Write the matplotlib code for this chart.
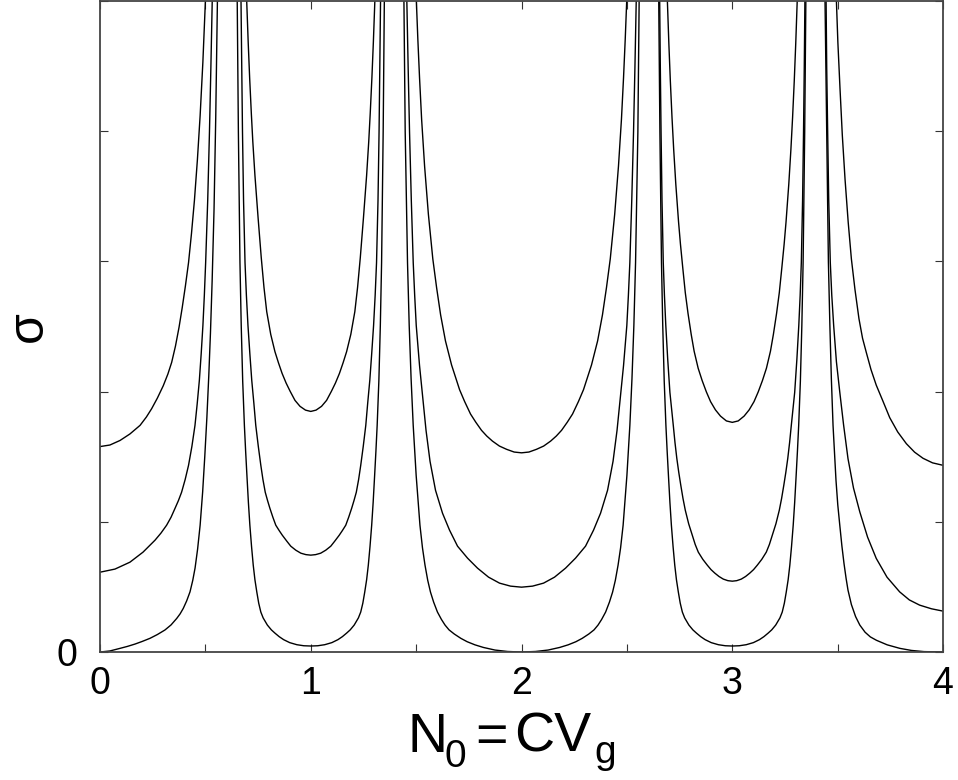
import matplotlib
matplotlib.use('Agg')
import matplotlib.pyplot as plt

plt.rcParams['font.family'] = ['Liberation Sans', 'DejaVu Sans']

# values; one list per branch, the curves leave the frame between branches
# top curve
a_x0 = [0.000, 0.047, 0.095, 0.142, 0.190, 0.220, 0.245, 0.272, 0.300, 0.322, 0.340, 0.358, 0.375, 0.390, 0.405, 0.420, 0.434, 0.448, 0.462, 0.475, 0.488, 0.500, 0.510]
a_y0 = [1.578, 1.590, 1.625, 1.675, 1.741, 1.805, 1.869, 1.950, 2.045, 2.135, 2.225, 2.350, 2.495, 2.645, 2.810, 2.991, 3.215, 3.470, 3.780, 4.120, 4.530, 5.000, 5.450]
a_x1 = [0.690, 0.696, 0.703, 0.710, 0.718, 0.725, 0.735, 0.750, 0.765, 0.778, 0.791, 0.810, 0.830, 0.847, 0.864, 0.883, 0.902, 0.925, 0.949, 0.975, 1.000,
        1.025, 1.051, 1.075, 1.098, 1.117, 1.136, 1.153, 1.170, 1.190, 1.209, 1.222, 1.235, 1.250, 1.265, 1.275, 1.282, 1.290, 1.297, 1.304, 1.310]
a_y1 = [5.31, 5.0, 4.686, 4.41, 4.135, 3.92, 3.662, 3.336, 3.03, 2.80, 2.614, 2.44, 2.307, 2.22, 2.14, 2.066, 2.003, 1.933, 1.887, 1.858, 1.848,
        1.858, 1.887, 1.933, 2.003, 2.066, 2.14, 2.22, 2.307, 2.44, 2.614, 2.80, 3.03, 3.336, 3.662, 3.92, 4.135, 4.41, 4.686, 5.0, 5.31]
a_x2 = [1.495, 1.501, 1.508, 1.516, 1.526, 1.540, 1.558, 1.579, 1.597, 1.616, 1.639, 1.668, 1.706, 1.730, 1.758, 1.783, 1.810, 1.835, 1.862, 1.895, 1.929, 1.965, 2.000,
        2.035, 2.071, 2.105, 2.138, 2.165, 2.190, 2.217, 2.242, 2.270, 2.294, 2.332, 2.361, 2.384, 2.403, 2.421, 2.442, 2.460, 2.474, 2.484, 2.492, 2.499, 2.505]
a_y2 = [5.295, 5.0, 4.707, 4.413, 4.09, 3.733, 3.363, 3.02, 2.799, 2.59, 2.39, 2.205, 2.015, 1.924, 1.828, 1.765, 1.703, 1.659, 1.620, 1.582, 1.557, 1.536, 1.530,
        1.536, 1.557, 1.582, 1.620, 1.659, 1.703, 1.765, 1.828, 1.924, 2.015, 2.205, 2.39, 2.59, 2.799, 3.02, 3.363, 3.733, 4.09, 4.413, 4.707, 5.0, 5.295]
a_x3 = [2.686, 2.692, 2.699, 2.706, 2.714, 2.722, 2.732, 2.745, 2.754, 2.765, 2.777, 2.790, 2.805, 2.819, 2.838, 2.857, 2.877, 2.897, 2.920, 2.944, 2.972, 3.000,
        3.028, 3.056, 3.080, 3.103, 3.123, 3.143, 3.162, 3.181, 3.195, 3.210, 3.223, 3.235, 3.246, 3.255, 3.268, 3.278, 3.286, 3.294, 3.301, 3.308, 3.314]
a_y3 = [5.32, 5.0, 4.673, 4.387, 4.104, 3.858, 3.593, 3.304, 3.133, 2.951, 2.76, 2.60, 2.44, 2.31, 2.18, 2.085, 1.998, 1.923, 1.86, 1.812, 1.775, 1.764,
        1.775, 1.812, 1.86, 1.923, 1.998, 2.085, 2.18, 2.31, 2.44, 2.60, 2.76, 2.951, 3.133, 3.304, 3.593, 3.858, 4.104, 4.387, 4.673, 5.0, 5.32]
a_x4 = [3.488, 3.494, 3.501, 3.511, 3.522, 3.535, 3.550, 3.565, 3.582, 3.601, 3.618, 3.636, 3.658, 3.683, 3.714, 3.747, 3.785, 3.826, 3.865, 3.905, 3.950, 4.000]
a_y4 = [5.33, 5.0, 4.68, 4.33, 3.97, 3.63, 3.30, 3.02, 2.785, 2.56, 2.41, 2.30, 2.17, 2.05, 1.93, 1.80, 1.69, 1.60, 1.535, 1.488, 1.453, 1.434]

# middle curve
b_x0 = [0.000, 0.071, 0.142, 0.204, 0.261, 0.289, 0.316, 0.337, 0.356, 0.372, 0.387, 0.404, 0.420, 0.436, 0.4506, 0.461, 0.4713, 0.480, 0.4882, 0.495, 0.5012, 0.511, 0.5193, 0.526, 0.5324, 0.538]
b_y0 = [0.613, 0.637, 0.690, 0.767, 0.859, 0.913, 0.974, 1.035, 1.104, 1.163, 1.227, 1.325, 1.434, 1.58, 1.741, 1.905, 2.086, 2.29, 2.508, 2.74, 2.991, 3.47, 3.995, 4.49, 5.0, 5.45]
b_x1 = [0.669, 0.6725, 0.676, 0.681, 0.688, 0.6945, 0.702, 0.711, 0.720, 0.730, 0.739, 0.751, 0.763, 0.773, 0.784, 0.795, 0.806, 0.820, 0.834, 0.850, 0.865, 0.886, 0.905, 0.929, 0.953, 0.977, 1.000,
        1.023, 1.047, 1.071, 1.095, 1.114, 1.135, 1.150, 1.166, 1.180, 1.194, 1.205, 1.216, 1.227, 1.237, 1.249, 1.261, 1.270, 1.280, 1.289, 1.298, 1.3055, 1.312, 1.319, 1.324, 1.3275, 1.331]
b_y1 = [5.0, 4.49, 3.995, 3.47, 2.991, 2.74, 2.508, 2.29, 2.086, 1.91, 1.741, 1.58, 1.434, 1.325, 1.227, 1.163, 1.104, 1.036, 0.974, 0.933, 0.897, 0.852, 0.813, 0.782, 0.759, 0.748, 0.744,
        0.748, 0.759, 0.782, 0.813, 0.852, 0.897, 0.933, 0.974, 1.036, 1.104, 1.163, 1.227, 1.325, 1.434, 1.58, 1.741, 1.91, 2.086, 2.29, 2.508, 2.74, 2.991, 3.47, 3.995, 4.49, 5.0]
b_x2 = [1.4558, 1.462, 1.4686, 1.477, 1.4861, 1.493, 1.5004, 1.516, 1.5326, 1.5469, 1.5658, 1.5919, 1.6251, 1.6584, 1.6963, 1.7438, 1.7912, 1.8434, 1.8956, 1.9478, 2.0,
        2.0522, 2.1044, 2.1566, 2.2088, 2.2562, 2.3037, 2.3416, 2.3749, 2.4081, 2.4342, 2.4531, 2.4674, 2.4840, 2.4996, 2.5070, 2.5139, 2.5230, 2.5314, 2.5380, 2.5442]
b_y2 = [5.0, 4.49, 3.995, 3.47, 2.991, 2.74, 2.508, 2.201, 1.933, 1.702, 1.465, 1.242, 1.066, 0.936, 0.813, 0.721, 0.644, 0.575, 0.529, 0.506, 0.498,
        0.506, 0.529, 0.575, 0.644, 0.721, 0.813, 0.936, 1.066, 1.242, 1.465, 1.702, 1.933, 2.201, 2.508, 2.74, 2.991, 3.47, 3.995, 4.49, 5.0]
b_x3 = [2.6555, 2.6585, 2.6620, 2.6665, 2.6725, 2.6780, 2.6845, 2.6935, 2.7040, 2.7200, 2.7280, 2.7367, 2.7460, 2.7556, 2.7660, 2.7770, 2.7930, 2.8102, 2.8240, 2.8387, 2.8600, 2.8814, 2.8990, 2.9170, 2.9370, 2.9573, 2.9790, 3.0,
        3.0210, 3.0427, 3.0630, 3.0830, 3.1010, 3.1186, 3.1400, 3.1613, 3.1760, 3.1898, 3.2070, 3.2230, 3.2340, 3.2444, 3.2540, 3.2633, 3.2720, 3.2800, 3.2960, 3.3065, 3.3155, 3.3220, 3.3275, 3.3335, 3.3380, 3.3415, 3.3445]
b_y3 = [5.0, 4.49, 3.995, 3.47, 2.991, 2.74, 2.508, 2.25, 1.994, 1.741, 1.61, 1.488, 1.38, 1.281, 1.180, 1.089, 0.985, 0.897, 0.826, 0.767, 0.712, 0.667, 0.633, 0.606, 0.580, 0.560, 0.548, 0.544,
        0.548, 0.560, 0.580, 0.606, 0.633, 0.667, 0.712, 0.767, 0.826, 0.897, 0.985, 1.089, 1.180, 1.281, 1.38, 1.488, 1.61, 1.741, 1.994, 2.25, 2.508, 2.74, 2.991, 3.47, 3.995, 4.49, 5.0]
b_x4 = [3.445, 3.448, 3.4525, 3.4575, 3.465, 3.472, 3.481, 3.494, 3.510, 3.528, 3.549, 3.575, 3.605, 3.642, 3.683, 3.734, 3.794, 3.840, 3.889, 3.945, 4.000]
b_y4 = [5.0, 4.49, 3.995, 3.47, 2.991, 2.74, 2.508, 2.23, 1.996, 1.745, 1.485, 1.26, 1.076, 0.882, 0.719, 0.575, 0.462, 0.400, 0.360, 0.332, 0.314]

# bottom curve
c_x0 = [0.000, 0.047, 0.095, 0.130, 0.166, 0.200, 0.237, 0.272, 0.308, 0.337, 0.364, 0.380, 0.395, 0.411, 0.427, 0.440, 0.451, 0.463, 0.475, 0.487, 0.497, 0.507, 0.516, 0.524, 0.532, 0.541, 0.549, 0.557]
c_y0 = [0.000, 0.008, 0.028, 0.043, 0.061, 0.081, 0.105, 0.134, 0.169, 0.208, 0.258, 0.293, 0.335, 0.392, 0.462, 0.550, 0.645, 0.790, 0.974, 1.230, 1.50, 1.80, 2.12, 2.45, 2.85, 3.40, 4.10, 5.0]
c_x1 = [0.651, 0.6565, 0.664, 0.670, 0.677, 0.685, 0.691, 0.697, 0.704, 0.711, 0.719, 0.727, 0.735, 0.744, 0.753, 0.763, 0.774, 0.794, 0.813, 0.830, 0.850, 0.871, 0.900, 0.934, 0.967, 1.000,
        1.033, 1.066, 1.100, 1.129, 1.150, 1.170, 1.187, 1.206, 1.226, 1.237, 1.247, 1.256, 1.265, 1.273, 1.281, 1.289, 1.296, 1.303, 1.309, 1.315, 1.323, 1.330, 1.336, 1.3435, 1.349]
c_y1 = [5.0, 3.995, 2.991, 2.508, 2.08, 1.741, 1.54, 1.357, 1.15, 0.974, 0.81, 0.667, 0.555, 0.460, 0.375, 0.307, 0.262, 0.207, 0.170, 0.145, 0.118, 0.095, 0.072, 0.056, 0.048, 0.046,
        0.048, 0.056, 0.072, 0.095, 0.118, 0.145, 0.170, 0.207, 0.262, 0.307, 0.375, 0.460, 0.555, 0.667, 0.81, 0.974, 1.15, 1.357, 1.54, 1.741, 2.08, 2.508, 2.991, 3.995, 5.0]
c_x2 = [1.442, 1.448, 1.459, 1.467, 1.476, 1.486, 1.500, 1.518, 1.530, 1.542, 1.555, 1.568, 1.583, 1.601, 1.620, 1.637, 1.656, 1.681, 1.712, 1.742, 1.779, 1.819, 1.874, 1.934, 2.000,
        2.066, 2.126, 2.181, 2.221, 2.258, 2.288, 2.319, 2.344, 2.363, 2.380, 2.399, 2.417, 2.432, 2.445, 2.458, 2.470, 2.482, 2.500, 2.514, 2.524, 2.533, 2.541, 2.552, 2.558]
c_y2 = [5.0, 3.995, 2.991, 2.508, 2.1, 1.741, 1.357, 0.974, 0.80, 0.667, 0.55, 0.460, 0.383, 0.307, 0.250, 0.207, 0.170, 0.138, 0.105, 0.079, 0.055, 0.035, 0.015, 0.004, 0.000,
        0.004, 0.015, 0.035, 0.055, 0.079, 0.105, 0.138, 0.170, 0.207, 0.250, 0.307, 0.383, 0.460, 0.55, 0.667, 0.80, 0.974, 1.357, 1.741, 2.1, 2.508, 2.991, 3.995, 5.0]
c_x3 = [2.651, 2.6565, 2.664, 2.670, 2.677, 2.685, 2.691, 2.697, 2.704, 2.711, 2.719, 2.727, 2.735, 2.744, 2.753, 2.763, 2.774, 2.794, 2.813, 2.830, 2.850, 2.871, 2.900, 2.934, 2.967, 3.000,
        3.033, 3.066, 3.100, 3.129, 3.150, 3.170, 3.187, 3.206, 3.226, 3.237, 3.247, 3.256, 3.265, 3.273, 3.281, 3.289, 3.296, 3.303, 3.309, 3.315, 3.323, 3.330, 3.336, 3.3435, 3.349]
c_y3 = [5.0, 3.995, 2.991, 2.508, 2.08, 1.741, 1.54, 1.357, 1.15, 0.974, 0.81, 0.667, 0.555, 0.460, 0.375, 0.307, 0.262, 0.207, 0.170, 0.145, 0.118, 0.095, 0.072, 0.056, 0.048, 0.046,
        0.048, 0.056, 0.072, 0.095, 0.118, 0.145, 0.170, 0.207, 0.262, 0.307, 0.375, 0.460, 0.555, 0.667, 0.81, 0.974, 1.15, 1.357, 1.54, 1.741, 2.08, 2.508, 2.991, 3.995, 5.0]
c_x4 = [3.440, 3.448, 3.456, 3.463, 3.470, 3.478, 3.492, 3.5005, 3.510, 3.520, 3.530, 3.540, 3.549, 3.565, 3.585, 3.605, 3.630, 3.655, 3.684, 3.735, 3.795, 3.850, 3.910, 4.000]
c_y4 = [5.0, 3.995, 2.991, 2.508, 2.10, 1.741, 1.319, 1.13, 0.974, 0.815, 0.680, 0.565, 0.475, 0.365, 0.272, 0.207, 0.152, 0.116, 0.090, 0.055, 0.028, 0.012, 0.003, 0.000]

branches = [
    (a_x0, a_y0), (a_x1, a_y1), (a_x2, a_y2), (a_x3, a_y3), (a_x4, a_y4),
    (b_x0, b_y0), (b_x1, b_y1), (b_x2, b_y2), (b_x3, b_y3), (b_x4, b_y4),
    (c_x0, c_y0), (c_x1, c_y1), (c_x2, c_y2), (c_x3, c_y3), (c_x4, c_y4),
]

x_ticks = [0, 1, 2, 3, 4]
x_minor = [0.5, 1.5, 2.5, 3.5]
y_ticks = [0, 1, 2, 3, 4, 5]
y_labels = ['0', '', '', '', '', '']

fig = plt.figure(figsize=(9.58, 7.80), dpi=100)
ax = fig.add_axes([0.1044, 0.1641, 0.8800, 0.8345])

for bx, by in branches:
    ax.plot(bx, by, color='black', lw=1.0)

ax.set_xlim(0, 4)
ax.set_ylim(0, 5)
ax.set_xticks(x_ticks)
ax.set_xticks(x_minor, minor=True)
ax.set_yticks(y_ticks)
ax.set_yticklabels(y_labels)
ax.tick_params(which='both', direction='in', top=True, right=True, length=6, width=0.8, color='#333333')
ax.tick_params(axis='x', labelsize=27, pad=10)
ax.tick_params(axis='y', labelsize=27, pad=16)
for s in ax.spines.values():
    s.set_color('#444444')
    s.set_linewidth(1.3)

# x label "N0 = CVg" built from pieces so the subscripts sit low like in the original
W, H = 958.0, 780.0
fig.text(408 / W, 1 - 752 / H, 'N', fontsize=40, ha='left', va='baseline')
fig.text(445 / W, 1 - 767 / H, '0', fontsize=28, ha='left', va='baseline')
fig.text(475 / W, 1 - 752 / H, '=', fontsize=40, ha='left', va='baseline')
fig.text(514 / W, 1 - 752 / H, 'CV', fontsize=40, ha='left', va='baseline')
fig.text(594 / W, 1 - 763 / H, 'g', fontsize=28, ha='left', va='baseline')

ax.set_ylabel('σ', fontsize=36)
ax.yaxis.set_label_coords(-0.057, 0.5)

fig.savefig('out.png', dpi=100)
